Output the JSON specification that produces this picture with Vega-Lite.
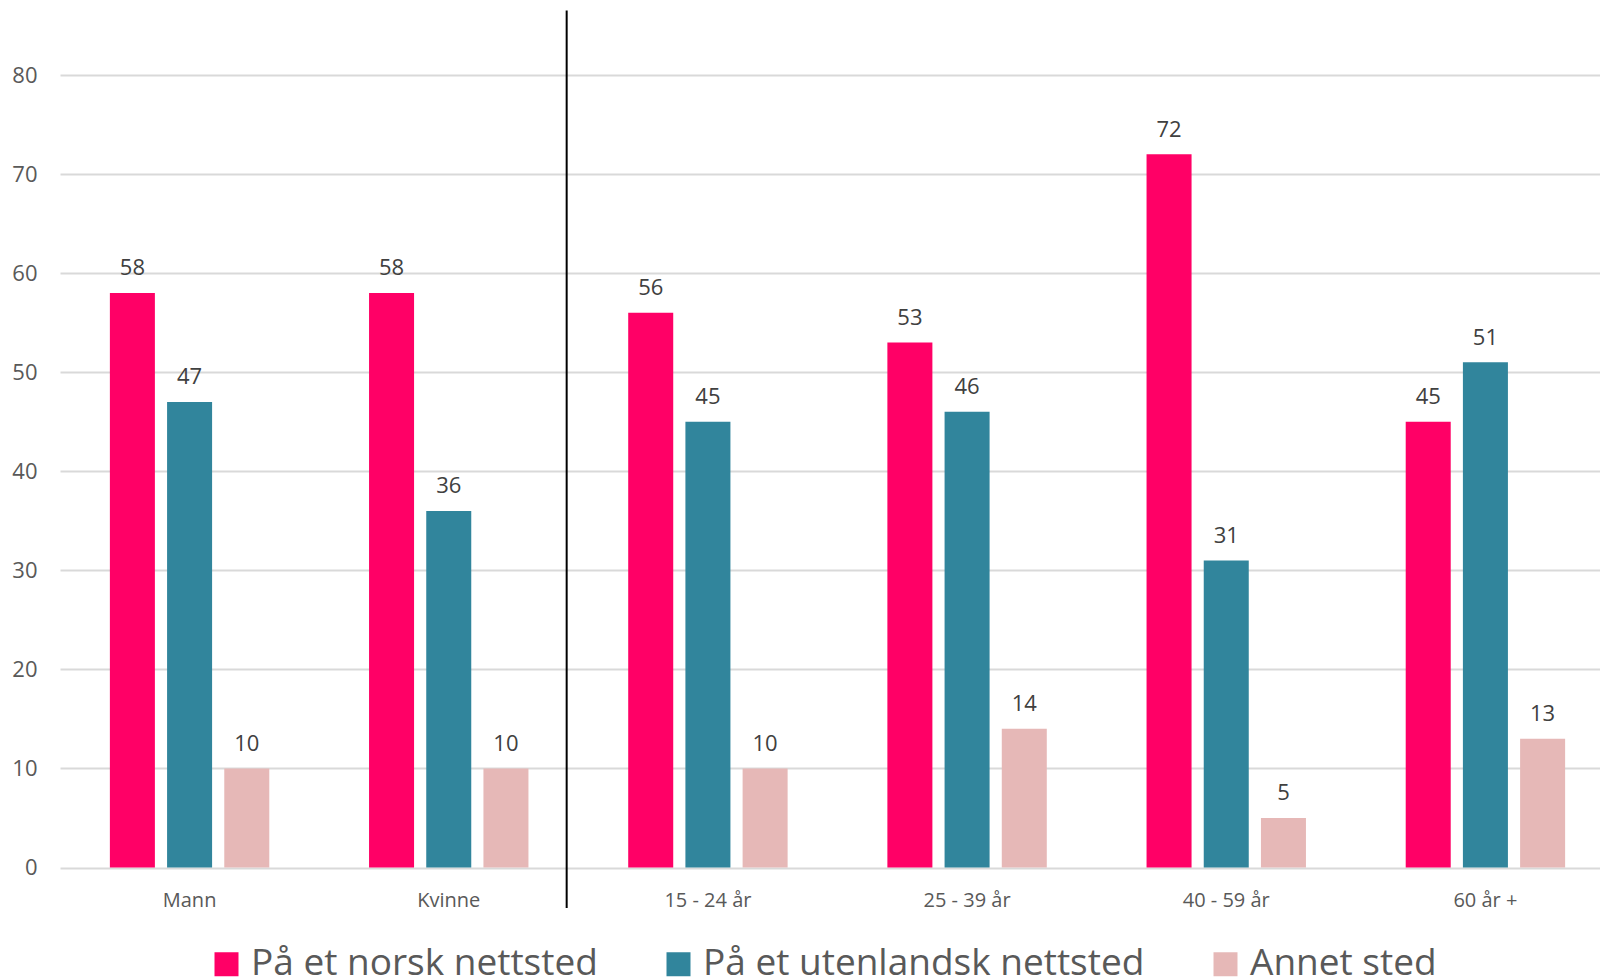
{
  "$schema": "https://vega.github.io/schema/vega-lite/v6.json",
  "width": 1540,
  "height": 792.5,
  "autosize": {"type": "none"},
  "padding": {"left": 60, "top": 75, "right": 0, "bottom": 110.5},
  "background": "white",
  "config": {"view": {"stroke": null}, "font": "Open Sans"},
  "data": {
    "values": [
      {"group": "Mann", "series": "På et norsk nettsted", "value": 58},
      {"group": "Mann", "series": "På et utenlandsk nettsted", "value": 47},
      {"group": "Mann", "series": "Annet sted", "value": 10},
      {"group": "Kvinne", "series": "På et norsk nettsted", "value": 58},
      {"group": "Kvinne", "series": "På et utenlandsk nettsted", "value": 36},
      {"group": "Kvinne", "series": "Annet sted", "value": 10},
      {"group": "15 - 24 år", "series": "På et norsk nettsted", "value": 56},
      {"group": "15 - 24 år", "series": "På et utenlandsk nettsted", "value": 45},
      {"group": "15 - 24 år", "series": "Annet sted", "value": 10},
      {"group": "25 - 39 år", "series": "På et norsk nettsted", "value": 53},
      {"group": "25 - 39 år", "series": "På et utenlandsk nettsted", "value": 46},
      {"group": "25 - 39 år", "series": "Annet sted", "value": 14},
      {"group": "40 - 59 år", "series": "På et norsk nettsted", "value": 72},
      {"group": "40 - 59 år", "series": "På et utenlandsk nettsted", "value": 31},
      {"group": "40 - 59 år", "series": "Annet sted", "value": 5},
      {"group": "60 år +", "series": "På et norsk nettsted", "value": 45},
      {"group": "60 år +", "series": "På et utenlandsk nettsted", "value": 51},
      {"group": "60 år +", "series": "Annet sted", "value": 13}
    ]
  },
  "layer": [
    {
      "mark": {"type": "bar"},
      "encoding": {
        "x": {
          "field": "group", "type": "nominal",
          "sort": ["Mann", "Kvinne", "15 - 24 år", "25 - 39 år", "40 - 59 år", "60 år +"],
          "scale": {"range": [0, 1555], "paddingInner": 0, "paddingOuter": 0},
          "axis": {"title": null, "domain": false, "ticks": false, "tickSize": 0, "labelAngle": 0, "labelFontSize": 20, "labelColor": "#595959", "labelBaseline": "alphabetic", "labelPadding": 39}
        },
        "xOffset": {
          "field": "series", "type": "nominal",
          "sort": ["På et norsk nettsted", "På et utenlandsk nettsted", "Annet sted"],
          "scale": {"paddingInner": 0.213, "paddingOuter": 0.872}
        },
        "y": {
          "field": "value", "type": "quantitative",
          "scale": {"domain": [0, 80], "nice": false},
          "axis": {"title": null, "domain": false, "ticks": false, "values": [0, 10, 20, 30, 40, 50, 60, 70, 80], "labelFontSize": 22, "labelColor": "#595959", "labelPadding": 23, "gridColor": "#D9D9D9", "gridWidth": 2}
        },
        "color": {
          "field": "series", "type": "nominal",
          "scale": {"domain": ["På et norsk nettsted", "På et utenlandsk nettsted", "Annet sted"], "range": ["#FF0066", "#31859C", "#E6B8B7"]},
          "legend": {"title": null, "orient": "none", "legendX": 148, "legendY": 870.5, "direction": "horizontal", "symbolType": "square", "symbolSize": 576, "symbolStrokeWidth": 0, "labelFontSize": 37, "labelColor": "#595959", "labelOffset": 6, "columnPadding": 62, "labelLimit": 0}
        }
      }
    },
    {
      "mark": {"type": "text", "baseline": "alphabetic", "dy": -17.6, "fontSize": 22, "fill": "#404040"},
      "encoding": {
        "x": {"field": "group", "type": "nominal", "sort": ["Mann", "Kvinne", "15 - 24 år", "25 - 39 år", "40 - 59 år", "60 år +"]},
        "xOffset": {"field": "series", "type": "nominal", "sort": ["På et norsk nettsted", "På et utenlandsk nettsted", "Annet sted"]},
        "y": {"field": "value", "type": "quantitative"},
        "text": {"field": "value", "type": "quantitative"}
      }
    },
    {
      "data": {"values": [{}]},
      "mark": {"type": "rule", "color": "black", "strokeWidth": 2},
      "encoding": {
        "x": {"datum": "Kvinne", "bandPosition": 0.955},
        "y": {"datum": 86.5},
        "y2": {"datum": -4.1}
      }
    }
  ]
}
